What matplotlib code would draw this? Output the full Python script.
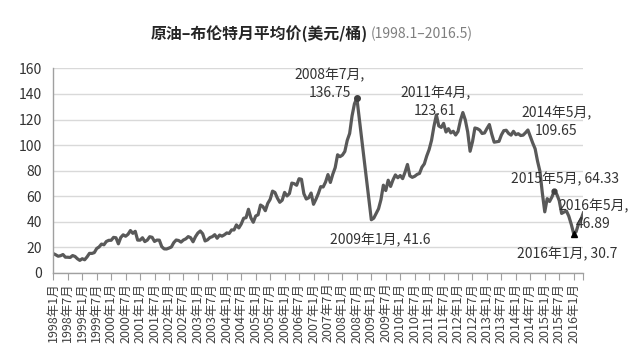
import numpy as np
import matplotlib
matplotlib.use("Agg")
import matplotlib.pyplot as plt

plt.rcParams['font.family'] = ['Noto Sans CJK SC', 'DejaVu Sans']

# Brent monthly average, USD/bbl, 1998.1 - 2016.5
brent_price = [
    15.11, 14.16, 13.03, 13.45, 14.38, 12.29, 12.25, 12.08, 13.56, 12.86, 11.05, 9.79,      # 1998
    11.09, 10.27, 12.51, 15.29, 15.23, 15.86, 19.08, 20.31, 22.55, 21.98, 24.58, 25.48,     # 1999
    25.51, 27.78, 27.49, 22.76, 27.74, 29.80, 28.68, 30.20, 33.14, 30.96, 32.55, 25.66,     # 2000
    25.62, 27.50, 24.50, 25.66, 28.31, 27.85, 24.61, 25.68, 25.62, 20.54, 18.80, 18.71,     # 2001
    19.42, 20.28, 23.70, 25.73, 25.35, 24.08, 25.74, 26.65, 28.40, 27.54, 24.34, 28.33,     # 2002
    31.18, 32.77, 30.61, 25.00, 25.86, 27.65, 28.35, 29.89, 27.11, 29.61, 28.75, 29.81,     # 2003
    31.28, 30.86, 33.63, 33.59, 37.57, 35.18, 38.22, 42.74, 43.20, 49.78, 43.11, 39.60,     # 2004
    44.51, 45.48, 53.10, 51.88, 48.65, 54.35, 57.52, 63.98, 62.91, 58.54, 55.24, 56.86,     # 2005
    62.99, 60.21, 62.06, 70.26, 69.78, 68.56, 73.67, 73.23, 61.96, 57.81, 58.76, 62.47,     # 2006
    53.68, 57.56, 62.05, 67.49, 67.21, 71.05, 76.93, 70.76, 77.17, 82.34, 92.41, 90.93,     # 2007
    92.18, 94.99, 103.64, 109.07, 122.80, 132.32, 136.75, 121.0, 105.0, 89.0, 73.0, 57.0,   # 2008
    41.60, 42.80, 46.54, 50.18, 57.30, 68.61, 64.44, 72.51, 67.65, 72.77, 76.66, 74.46,     # 2009
    76.17, 73.75, 78.83, 84.82, 75.95, 74.76, 75.58, 77.04, 77.84, 82.67, 85.28, 91.45,     # 2010
    96.52, 103.72, 114.64, 123.61, 114.99, 113.83, 116.97, 110.22, 112.83, 109.55, 110.77, 107.87,  # 2011
    110.69, 119.33, 125.45, 119.75, 110.34, 95.16, 102.62, 113.36, 112.86, 111.71, 109.06, 109.49,  # 2012
    112.96, 116.05, 108.47, 102.25, 102.56, 102.92, 107.93, 111.28, 111.60, 109.08, 107.79, 110.76,  # 2013
    108.12, 108.90, 107.48, 107.76, 109.65, 111.80, 106.77, 101.61, 97.09, 87.43, 79.44, 62.34,     # 2014
    47.76, 58.10, 55.89, 59.52, 64.33, 61.48, 56.56, 46.52, 47.62, 48.43, 44.27, 38.01,     # 2015
    30.70, 32.18, 38.21, 41.58, 46.89,                                                      # 2016
]
tick_labels = [f'{y}年{m}月' for y in range(1998, 2017) for m in (1, 7)][:-1]

# annotated points: month index, text, offset in px
ann_idx  = [126, 159, 196, 208, 220, 216, 132]
ann_text = ['2008年7月,\n136.75', '2011年4月,\n123.61', '2014年5月,\n109.65',
            '2015年5月, 64.33', '2016年5月,\n46.89', '2016年1月, 30.7', '2009年1月, 41.6']
ann_off  = [(-27, 14), (-1, 13), (31, 11), (11, 12), (10, -2), (-6, -20), (9, -20)]

x = np.arange(len(brent_price))

fig = plt.figure(figsize=(6.41, 3.58), dpi=100)
ax = fig.add_axes([0.0832, 0.2377, 0.910 - 0.0832, 0.809 - 0.2377])

ax.plot(x, brent_price, color='#595959', linewidth=2.3, solid_joinstyle='round')
ax.plot(126, brent_price[126], 'o', color='#404040', markersize=4)
ax.plot(208, brent_price[208], 'o', color='#404040', markersize=3.5)
ax.plot(216, brent_price[216], '^', color='black', markersize=5)

for i, t, off in zip(ann_idx, ann_text, ann_off):
    ax.annotate(t, xy=(i, brent_price[i]), xytext=off, textcoords='offset pixels',
                ha='center', va='center', fontsize=10, color='#333333',
                linespacing=1.35)

ax.set_xlim(0, 220)
ax.set_ylim(0, 160)
ax.set_yticks(np.arange(0, 161, 20))
ax.set_xticks(np.arange(0, 217, 6))
ax.set_xticks([220], minor=True)
ax.set_xticklabels(tick_labels, rotation=90, fontsize=9, color='#404040')
ax.tick_params(axis='x', which='both', length=5, width=0.8, color='#a0a0a0', pad=2)
ax.tick_params(axis='y', length=0, labelsize=10, labelcolor='#333333', pad=8)
ax.grid(axis='y', color='#d9d9d9', linewidth=1)
ax.set_axisbelow(True)
for s in ['top', 'right']:
    ax.spines[s].set_visible(False)
for s in ['left', 'bottom']:
    ax.spines[s].set_color('#a0a0a0')
    ax.spines[s].set_linewidth(1)

fig.text(368 / 641, 1 - 34 / 358, '原油–布伦特月平均价(美元/桶)', ha='right', va='center',
         fontsize=11.4, fontweight='bold', color='#262626')
fig.text(371 / 641, 1 - 34 / 358, '(1998.1–2016.5)', ha='left', va='center',
         fontsize=10, color='#7f7f7f')

fig.savefig('out.png', dpi=100)
